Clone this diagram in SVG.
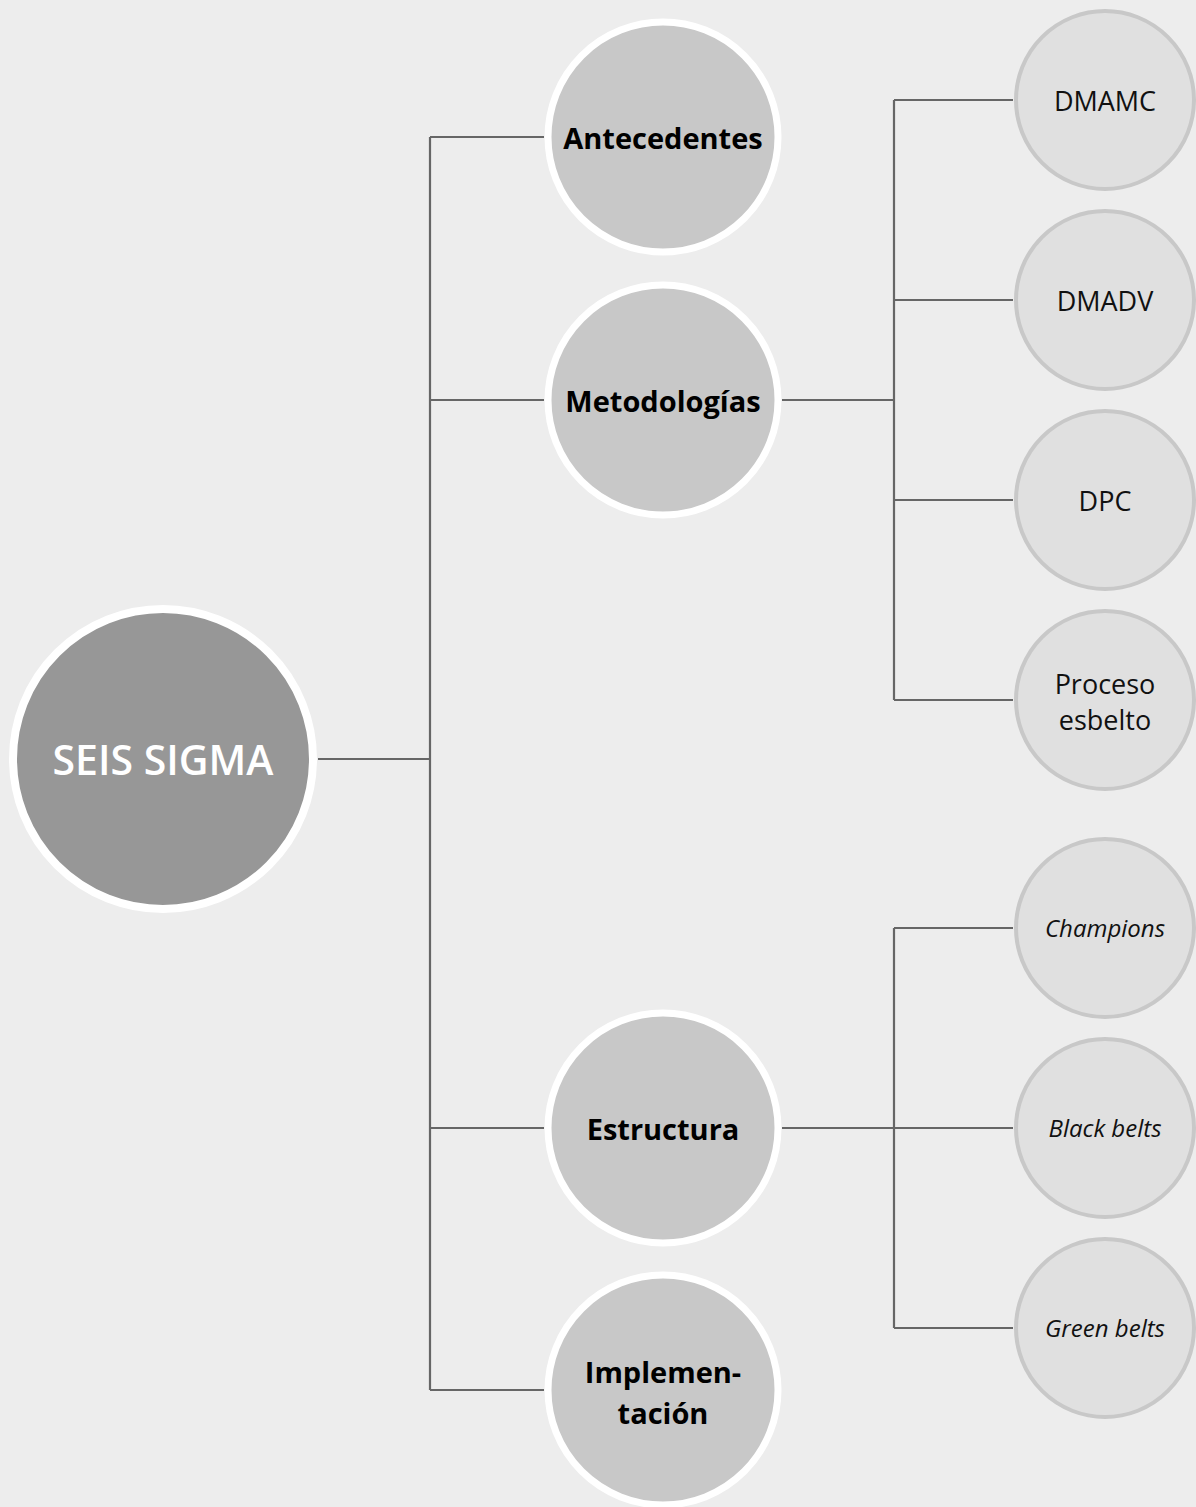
<svg xmlns="http://www.w3.org/2000/svg" width="1196" height="1507" viewBox="0 0 1196 1507">
<style>
.bg{fill:#ededed}
.root{fill:#979797;stroke:#ffffff;stroke-width:8}
.mid{fill:#c8c8c8;stroke:#ffffff;stroke-width:7}
.leaf{fill:#e0e0e0;stroke:#c8c8c8;stroke-width:4}
.conn{fill:none;stroke:#666666;stroke-width:2.2}
text{font-family:"Open Sans","Noto Sans",sans-serif;text-anchor:middle}
.tr{fill:#ffffff;font-size:41px;font-weight:600}
.tm{fill:#000000;font-size:29px;font-weight:700}
.tl{fill:#111111;font-size:27px}
.ti{fill:#111111;font-size:24px;font-style:italic}
</style>
<rect class="bg" x="0" y="0" width="1196" height="1507"/>
<g id="connectors">
<path class="conn" d="M318 759H430M430 137V1390M430 137H544M430 400H544M430 1128H544M430 1390H544"/>
<path class="conn" d="M782 400H894M894 100V700M894 100H1013M894 300H1013M894 500H1013M894 700H1013"/>
<path class="conn" d="M782 1128H894M894 928V1328M894 928H1013M894 1128H1013M894 1328H1013"/>
</g>
<g id="seis-sigma"><circle class="root" cx="163" cy="759" r="150"/><text class="tr" x="163" y="775">SEIS SIGMA</text></g>
<g id="antecedentes"><circle class="mid" cx="663" cy="137" r="115"/><text class="tm" x="663" y="149">Antecedentes</text></g>
<g id="metodologias"><circle class="mid" cx="663" cy="400" r="115"/><text class="tm" x="663" y="412">Metodologías</text></g>
<g id="estructura"><circle class="mid" cx="663" cy="1128" r="115"/><text class="tm" x="663" y="1140">Estructura</text></g>
<g id="implementacion"><circle class="mid" cx="663" cy="1390" r="115"/><text class="tm" x="663" y="1383">Implemen-</text><text class="tm" x="663" y="1424">tación</text></g>
<g id="dmamc"><circle class="leaf" cx="1105" cy="100" r="89"/><text class="tl" x="1105" y="111">DMAMC</text></g>
<g id="dmadv"><circle class="leaf" cx="1105" cy="300" r="89"/><text class="tl" x="1105" y="311">DMADV</text></g>
<g id="dpc"><circle class="leaf" cx="1105" cy="500" r="89"/><text class="tl" x="1105" y="511">DPC</text></g>
<g id="proceso-esbelto"><circle class="leaf" cx="1105" cy="700" r="89"/><text class="tl" x="1105" y="694">Proceso</text><text class="tl" x="1105" y="730">esbelto</text></g>
<g id="champions"><circle class="leaf" cx="1105" cy="928" r="89"/><text class="ti" x="1105" y="937">Champions</text></g>
<g id="black-belts"><circle class="leaf" cx="1105" cy="1128" r="89"/><text class="ti" x="1105" y="1137">Black belts</text></g>
<g id="green-belts"><circle class="leaf" cx="1105" cy="1328" r="89"/><text class="ti" x="1105" y="1337">Green belts</text></g>
</svg>
